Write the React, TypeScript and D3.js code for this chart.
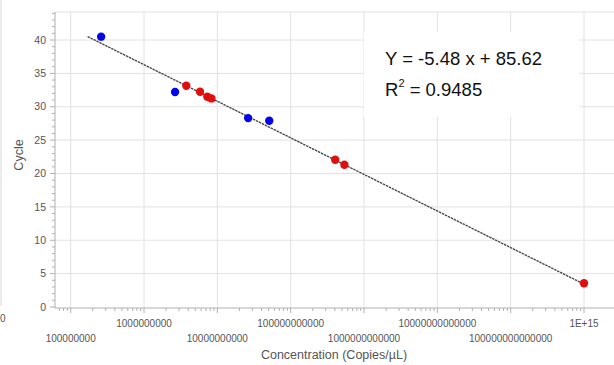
import React from "react";
import * as d3 from "d3";

const blueConc = [2.6e8, 2.65e9, 2.63e10, 5.1e10];
const blueCycle = [40.5, 32.2, 28.3, 27.9];
const redConc = [3.77e9, 5.8e9, 7.3e9, 8.3e9, 4.05e11, 5.4e11, 1e15];
const redCycle = [33.15, 32.25, 31.5, 31.25, 22.05, 21.3, 3.55];
const slope = -5.48;
const intercept = 85.62;
const fitStart = 1.7e8;
const fitEnd = 1e15;
const yTicks = [0, 5, 10, 15, 20, 25, 30, 35, 40];
const xTicks = [1e8, 1e9, 1e10, 1e11, 1e12, 1e13, 1e14, 1e15];
const xTickLabels = [
  "100000000",
  "1000000000",
  "10000000000",
  "100000000000",
  "1000000000000",
  "10000000000000",
  "100000000000000",
  "1E+15",
];
const eqLine1 = "Y = -5.48 x + 85.62";
const eqR2 = "= 0.9485";

export default function App() {
  const W = 614, H = 365;
  const left = 55, top = 12, right = 614, bottom = 308;
  const x = d3.scaleLog().domain([1e8, 1e15]).range([70.7, 584]);
  const y = d3.scaleLinear().domain([0, 40]).range([307, 40]);
  const grid = "#e2e2e2";
  const axisC = "#b0b0b0";
  const txt = "#555";
  const font = "'Liberation Sans', Arial, sans-serif";

  const minorX: number[] = [];
  for (let e = 7; e < 15; e++) {
    for (let m = 2; m <= 9; m++) {
      const v = m * Math.pow(10, e);
      const px = x(v);
      if (px >= left && px <= right) minorX.push(px);
    }
  }
  const minorY: number[] = [];
  for (let v = 0; v <= 44; v++) if (v % 5 !== 0) minorY.push(y(v));

  const fitLine = d3
    .line<number>()
    .x((c) => x(c))
    .y((c) => y(slope * Math.log10(c) + intercept));

  return (
    <svg width={W} height={H} style={{ position: "absolute", left: 0, top: 0, background: "#fff" }}>
      {/* sliver of neighbouring chart */}
      <line x1={1} x2={1} y1={0} y2={306} stroke="#d8d8d8" />
      <text x={0} y={322} fontFamily={font} fontSize={10} fill={txt} textAnchor="start">0</text>

      <line x1={left} x2={right} y1={top} y2={top} stroke={grid} />
      {yTicks.filter((t) => t > 0).map((t) => (
        <line key={"gy" + t} x1={left} x2={right} y1={y(t)} y2={y(t)} stroke={grid} />
      ))}
      {xTicks.map((t) => (
        <line key={"gx" + t} x1={x(t)} x2={x(t)} y1={top} y2={bottom} stroke={grid} />
      ))}

      <line x1={left} x2={left} y1={top} y2={bottom} stroke={axisC} />
      <line x1={left} x2={right} y1={bottom} y2={bottom} stroke={axisC} />
      {yTicks.map((t) => (
        <line key={"ty" + t} x1={left - 5} x2={left} y1={y(t)} y2={y(t)} stroke={axisC} />
      ))}
      {minorY.map((p, i) => (
        <line key={"my" + i} x1={left - 3} x2={left} y1={p} y2={p} stroke={axisC} />
      ))}
      {xTicks.map((t) => (
        <line key={"tx" + t} x1={x(t)} x2={x(t)} y1={bottom} y2={bottom + 5} stroke={axisC} />
      ))}
      {minorX.map((p, i) => (
        <line key={"mx" + i} x1={p} x2={p} y1={bottom} y2={bottom + 3} stroke={axisC} />
      ))}

      {yTicks.map((t) => (
        <text key={"ly" + t} x={46} y={y(t) + 3.7} fontFamily={font} fontSize={10.5} fill={txt} textAnchor="end">
          {t}
        </text>
      ))}
      {xTicks.map((t, i) => (
        <text
          key={"lx" + t}
          x={x(t)}
          y={i % 2 === 1 ? 326.5 : 341.5}
          fontFamily={font}
          fontSize={10}
          fill={txt}
          textAnchor="middle"
        >
          {xTickLabels[i]}
        </text>
      ))}

      <text
        transform={`translate(23,155) rotate(-90)`}
        fontFamily={font}
        fontSize={12.5}
        fill={txt}
        textAnchor="middle"
      >
        Cycle
      </text>
      <text x={334} y={359} fontFamily={font} fontSize={12.5} fill={txt} textAnchor="middle">
        Concentration (Copies/µL)
      </text>

      <path
        d={fitLine([fitStart, fitEnd]) || ""}
        fill="none"
        stroke="#4a4a4a"
        strokeWidth={1.4}
        strokeDasharray="2.5,0.8"
      />

      {blueConc.map((c, i) => (
        <circle key={"b" + i} cx={x(c)} cy={y(blueCycle[i])} r={4.2} fill="#0505ea" />
      ))}
      {redConc.map((c, i) => (
        <circle key={"r" + i} cx={x(c)} cy={y(redCycle[i])} r={4.2} fill="#e00f0f" />
      ))}

      <rect x={364} y={32} width={215} height={85} fill="#fff" />
      <text x={385} y={65} fontFamily={font} fontSize={18.5} fill="#111">
        {eqLine1}
      </text>
      <text x={385} y={96} fontFamily={font} fontSize={18.5} fill="#111">
        R
        <tspan fontSize={11} dy={-9}>2</tspan>
        <tspan dy={9}> {eqR2}</tspan>
      </text>
    </svg>
  );
}
